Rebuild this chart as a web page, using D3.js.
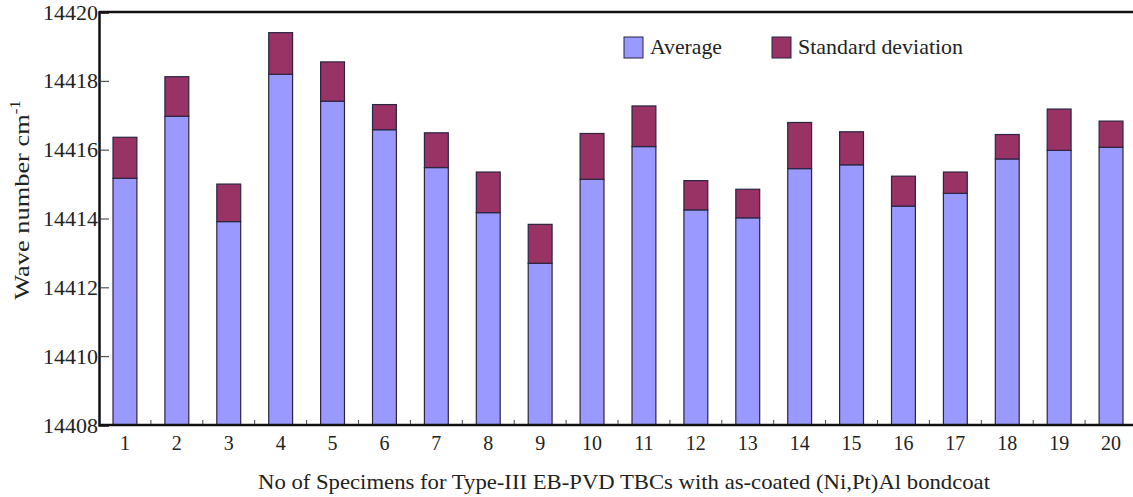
<!DOCTYPE html>
<html>
<head>
<meta charset="utf-8">
<script src="https://cdn.jsdelivr.net/npm/d3@7"></script>
<style>
  html, body { margin: 0; padding: 0; background: #fff; }
  svg { display: block; font-family: "Liberation Serif", "DejaVu Serif", serif; }
</style>
</head>
<body>
<svg id="chart" width="1133" height="497"></svg>
<script>
// Specimen numbers along the x axis
const specimens = [1, 2, 3, 4, 5, 6, 7, 8, 9, 10, 11, 12, 13, 14, 15, 16, 17, 18, 19, 20];
// Mean Raman wave number per specimen (cm^-1)
const averages = [14415.17, 14416.97, 14413.91, 14418.19, 14417.41, 14416.58, 14415.48, 14414.17, 14412.70, 14415.14,
                  14416.09, 14414.25, 14414.02, 14415.45, 14415.56, 14414.36, 14414.73, 14415.73, 14415.98, 14416.07];
// Standard deviation stacked on top of each mean
const deviations = [1.19, 1.15, 1.09, 1.21, 1.14, 0.73, 1.01, 1.18, 1.13, 1.33,
                    1.18, 0.85, 0.83, 1.34, 0.96, 0.87, 0.62, 0.71, 1.20, 0.76];
// Y tick labels
const yTicks = [14408, 14410, 14412, 14414, 14416, 14418, 14420];
const seriesNames = ["Average", "Standard deviation"];
const seriesColors = ["#9999ff", "#993366"];

const svg = d3.select("#chart");
const plotLeft = 99, plotRight = 1137, plotTop = 12, plotBottom = 425;

const x = d3.scaleBand().domain(specimens).range([plotLeft, plotRight]).paddingInner(0.54).paddingOuter(0.27);
const y = d3.scaleLinear().domain([14408, 14420]).range([plotBottom, plotTop]);

// Stacked layout: average from the axis base, deviation on top
const rows = specimens.map((s, i) => ({ s, avg: averages[i], sd: deviations[i] }));
const stack = d3.stack()
  .keys(["avg", "sd"])
  .value((d, k) => k === "avg" ? d.avg - 14408 : d.sd);
const layers = stack(rows);

svg.append("g").selectAll("g")
  .data(layers)
  .join("g")
  .attr("fill", (d, i) => seriesColors[i])
  .selectAll("rect")
  .data(d => d)
  .join("rect")
  .attr("x", d => x(d.data.s))
  .attr("width", x.bandwidth())
  .attr("y", d => y(14408 + d[1]))
  .attr("height", d => y(14408 + d[0]) - y(14408 + d[1]))
  .attr("stroke", "#2b2540")
  .attr("stroke-width", 1.2);

// Frame: top line, left axis and bottom axis
svg.append("line").attr("x1", plotLeft).attr("x2", 1133).attr("y1", plotTop).attr("y2", plotTop)
  .attr("stroke", "#111").attr("stroke-width", 2.5);

const yAxis = d3.axisLeft(y).tickValues(yTicks).tickSize(-10).tickPadding(14).tickFormat(d3.format("d"));
const gy = svg.append("g").attr("transform", `translate(${plotLeft},0)`).call(yAxis);
gy.select(".domain").attr("stroke", "#111").attr("stroke-width", 2.5);
gy.selectAll(".tick line").attr("stroke", "#333").attr("stroke-width", 1);
gy.selectAll(".tick").filter(d => d === 14408 || d === 14420).select("line").remove();
gy.selectAll(".tick text").attr("font-size", 22).attr("fill", "#222")
  .attr("font-family", "Liberation Serif, serif").attr("x", -1);

const xAxis = d3.axisBottom(x).tickSize(0).tickPadding(11);
const gx = svg.append("g").attr("transform", `translate(0,${plotBottom})`).call(xAxis);
gx.select(".domain").remove();
gx.append("line").attr("x1", plotLeft).attr("x2", 1133).attr("stroke", "#111").attr("stroke-width", 2.5);
gx.selectAll(".tick text").attr("font-size", 20).attr("fill", "#222")
  .attr("font-family", "Liberation Serif, serif");

// Small separators between categories on the x axis
gx.append("g").selectAll("line")
  .data(specimens.slice(1))
  .join("line")
  .attr("x1", d => x(d) - x.step() * x.paddingInner() / 2)
  .attr("x2", d => x(d) - x.step() * x.paddingInner() / 2)
  .attr("y1", -1).attr("y2", -5)
  .attr("stroke", "#444").attr("stroke-width", 1);

// Axis titles
svg.append("text")
  .attr("x", 258).attr("y", 489)
  .attr("font-size", 22).attr("fill", "#222")
  .attr("textLength", 732).attr("lengthAdjust", "spacingAndGlyphs")
  .text("No of Specimens for Type-III EB-PVD TBCs with as-coated (Ni,Pt)Al bondcoat");

const yt = svg.append("g").attr("transform", "translate(29,200) rotate(-90) scale(1.2,1)")
  .append("text")
  .attr("text-anchor", "middle")
  .attr("font-size", 22).attr("fill", "#222");
yt.append("tspan").text("Wave number cm");
yt.append("tspan").attr("font-size", 14).attr("dy", -9).text("-1");

// Legend
const legend = svg.append("g");
const legendX = [624, 772];
const legendTextWidth = [72, 165];
seriesNames.forEach((name, i) => {
  legend.append("rect")
    .attr("x", legendX[i]).attr("y", 37).attr("width", 19).attr("height", 21)
    .attr("fill", seriesColors[i]).attr("stroke", "#2b2540").attr("stroke-width", 1);
  legend.append("text")
    .attr("x", legendX[i] + 26).attr("y", 54)
    .attr("font-size", 22).attr("fill", "#222")
    .attr("textLength", legendTextWidth[i]).attr("lengthAdjust", "spacingAndGlyphs")
    .text(name);
});
</script>
</body>
</html>
